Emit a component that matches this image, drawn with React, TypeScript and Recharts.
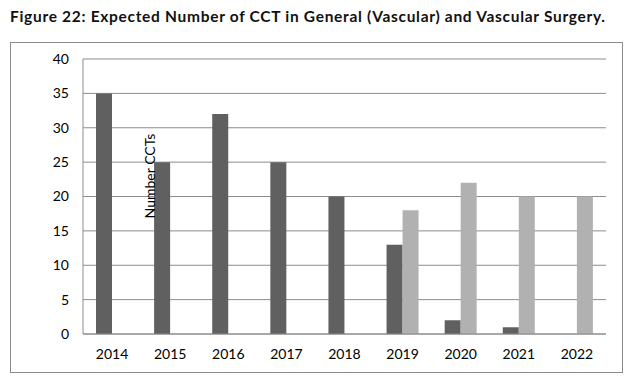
import React from "react";
import { BarChart, Bar, XAxis, YAxis, CartesianGrid, Label } from "recharts";

const years = ["2014", "2015", "2016", "2017", "2018", "2019", "2020", "2021", "2022"];
const generalVascular = [35, 25, 32, 25, 20, 13, 2, 1, 0];
const vascularSurgery = [0, 0, 0, 0, 0, 18, 22, 20, 20];
const yTicks = [0, 5, 10, 15, 20, 25, 30, 35, 40];

const data = years.map((year, i) => ({
  year,
  general: generalVascular[i],
  vascular: vascularSurgery[i],
}));

const font = "Lato, 'Open Sans', sans-serif";

function AxisTitle() {
  return (
    <text
      x={155}
      y={176}
      transform="rotate(-90 155 176)"
      textAnchor="middle"
      fontSize={14}
      fontFamily={font}
      fill="#000"
    >
      Number CCTs
    </text>
  );
}

export default function App() {
  return (
    <div
      style={{
        position: "absolute",
        left: 0,
        top: 0,
        width: 640,
        height: 385,
        background: "#fff",
        fontFamily: font,
      }}
    >
      <div
        style={{
          position: "absolute",
          left: 10,
          top: 7,
          fontSize: 15.5,
          letterSpacing: 0.7,
          fontWeight: 700,
          color: "#111",
          whiteSpace: "nowrap",
        }}
      >
        Figure 22: Expected Number of CCT in General (Vascular) and Vascular Surgery.
      </div>
      <div
        style={{
          position: "absolute",
          left: 10,
          top: 42,
          width: 611,
          height: 329,
          border: "1px solid #8a8a8a",
        }}
      />
      <div style={{ position: "absolute", left: 0, top: 0 }}>
        <BarChart
          width={640}
          height={385}
          data={data}
          margin={{ top: 59, right: 34, bottom: 21, left: 0 }}
          barSize={16}
          barGap={0}
        >
          <CartesianGrid vertical={false} stroke="#8c8c8c" strokeWidth={1} />
          <XAxis
            dataKey="year"
            height={30}
            axisLine={{ stroke: "#8c8c8c" }}
            tickLine={false}
            tickSize={0}
            tickMargin={15}
            tick={{ fontSize: 14, fill: "#000", fontFamily: font }}
            interval={0}
          />
          <YAxis
            width={83}
            domain={[0, 40]}
            ticks={yTicks}
            axisLine={{ stroke: "#8c8c8c" }}
            tickLine={false}
            tickSize={0}
            tickMargin={14}
            tick={{ fontSize: 14, fill: "#000", fontFamily: font }}
          >
            <Label content={<AxisTitle />} />
          </YAxis>
          <Bar dataKey="general" fill="#606060" isAnimationActive={false} />
          <Bar dataKey="vascular" fill="#b1b1b1" isAnimationActive={false} />
        </BarChart>
      </div>
    </div>
  );
}
